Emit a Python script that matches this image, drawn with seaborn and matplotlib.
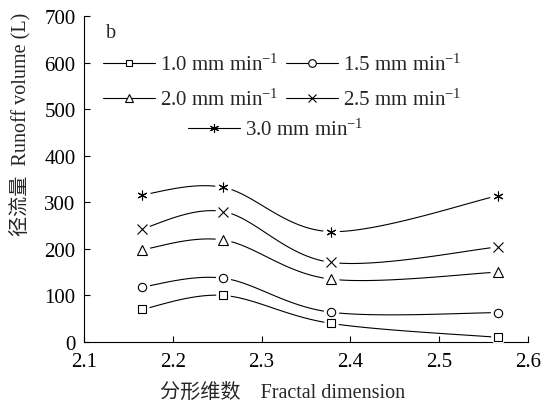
import numpy as np
import pandas as pd
import matplotlib
matplotlib.use("Agg")
import matplotlib.pyplot as plt
import seaborn as sns
from matplotlib.lines import Line2D

# ---- data ----
fractal_dim = [2.165, 2.257, 2.378, 2.566]
rate_labels = ["1.0", "1.5", "2.0", "2.5", "3.0"]
runoff_1_0 = [70, 100, 40, 10]
runoff_1_5 = [118, 137, 64, 63]
runoff_2_0 = [198, 219, 135, 150]
runoff_2_5 = [243, 280, 171, 204]
runoff_3_0 = [316, 332, 237, 314]
x_ticks = [2.1, 2.2, 2.3, 2.4, 2.5, 2.6]
y_ticks = [0, 100, 200, 300, 400, 500, 600, 700]

series = [runoff_1_0, runoff_1_5, runoff_2_0, runoff_2_5, runoff_3_0]
markers = ["s", "o", "^", "x", (6, 2, 0)]
msizes = [5.5, 6, 6.5, 6.5, 7]

sns.set_theme(style="ticks")
plt.rcParams["font.family"] = ["Liberation Serif", "Noto Sans CJK SC"]
plt.rcParams["mathtext.fontset"] = "custom"
plt.rcParams["mathtext.rm"] = "Liberation Serif"
plt.rcParams["mathtext.it"] = "Liberation Serif:italic"

fig = plt.figure(figsize=(5.55, 4.06), dpi=100)
ax = fig.add_axes([84 / 555, 63 / 406, 444 / 555, 326 / 406])

XS, YS = 888.0, 0.4657  # approximate px per unit for smoothing in display space


def smooth(xs, ys, n=40):
    P = np.column_stack([np.array(xs) * XS, np.array(ys) * YS])
    out = []
    m = len(P)
    for i in range(m - 1):
        p0 = P[i - 1] if i > 0 else P[i]
        p1, p2 = P[i], P[i + 1]
        p3 = P[i + 2] if i + 2 < m else P[i + 1]
        c1 = p1 + (p2 - p0) / 6.0
        c2 = p2 - (p3 - p1) / 6.0
        t = np.linspace(0, 1, n)[:, None]
        seg = (1 - t) ** 3 * p1 + 3 * (1 - t) ** 2 * t * c1 + 3 * (1 - t) * t ** 2 * c2 + t ** 3 * p2
        out.append(seg if i == 0 else seg[1:])
    arr = np.vstack(out)
    return arr[:, 0] / XS, arr[:, 1] / YS


for ys, mk, ms in zip(series, markers, msizes):
    sx, sy = smooth(fractal_dim, ys)
    sns.lineplot(x=sx, y=sy, color="black", lw=0.8, zorder=2, ax=ax, sort=False, estimator=None)
    df = pd.DataFrame({"x": fractal_dim, "y": ys})
    # white mask to create the small gaps around markers
    ax.plot(df["x"], df["y"], ls="none", marker="o", ms=ms + 5, mfc="white", mec="none", zorder=3)
    ax.plot(df["x"], df["y"], ls="none", marker=mk, ms=ms, mfc="white", mec="black", mew=0.8, zorder=4)

ax.set_xlim(2.1, 2.6)
ax.set_ylim(0, 700)
ax.set_xticks(x_ticks)
ax.set_xticklabels([f"{v:.1f}" for v in x_ticks])
ax.set_yticks(y_ticks)
ax.tick_params(direction="in", length=4, width=0.8, labelsize=15, colors="black")
ax.tick_params(axis="x", pad=7)
ax.tick_params(axis="y", pad=6)
for s in ["top", "right"]:
    ax.spines[s].set_visible(False)
for s in ["left", "bottom"]:
    ax.spines[s].set_linewidth(0.8)
    ax.spines[s].set_color("black")

ax.set_xlabel("分形维数\u3000Fractal dimension", fontsize=14.5)
ax.xaxis.set_label_coords(0.448, -0.125)
ax.set_ylabel("径流量  Runoff volume (L)", fontsize=14.5)
ax.yaxis.set_label_coords(-0.12, 0.672)

ax.text(0.05, 0.95, "b", transform=ax.transAxes, fontsize=14.5, ha="left", va="center")

handles = []
for mk, ms, lab in zip(markers, msizes, rate_labels):
    handles.append(Line2D([0], [0], color="black", lw=0.8, marker=mk, ms=ms - 0.5,
                          mfc="white", mec="black", mew=0.8,
                          label=f"{lab} mm min$^{{-1}}$"))

order = [handles[0], handles[2], handles[1], handles[3]]
leg1 = ax.legend(handles=order, ncol=2, loc="upper left",
                 bbox_to_anchor=(103 / 555, 1 - 55 / 406), bbox_transform=fig.transFigure,
                 frameon=False, fontsize=15, handlelength=2.5, handletextpad=0.25,
                 columnspacing=0.34, labelspacing=0.65, borderpad=0, borderaxespad=0)
ax.add_artist(leg1)
leg2 = ax.legend(handles=handles[4:], loc="upper left",
                 bbox_to_anchor=(188 / 555, 1 - 120 / 406), bbox_transform=fig.transFigure,
                 frameon=False, fontsize=15, handlelength=2.5, handletextpad=0.25,
                 borderpad=0, borderaxespad=0)

fig.savefig("out.png", dpi=100)
